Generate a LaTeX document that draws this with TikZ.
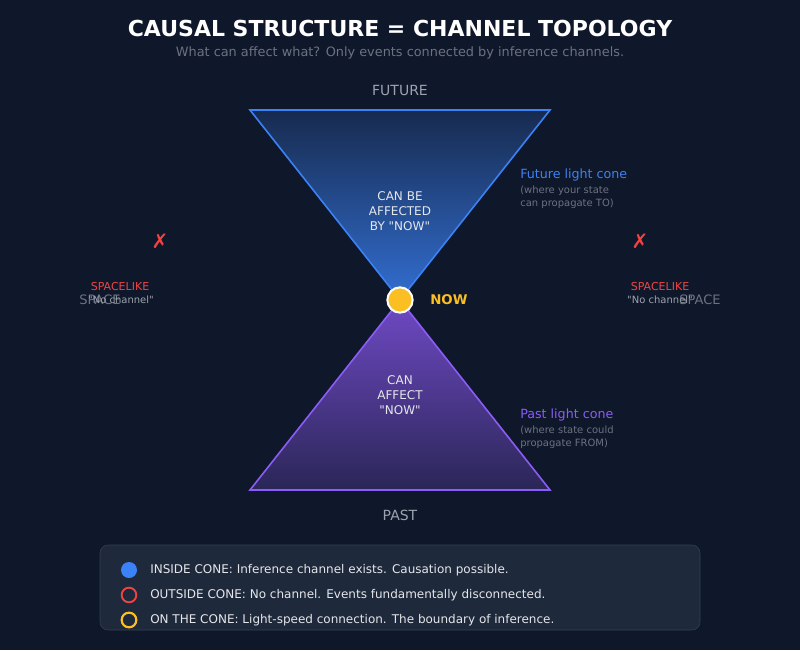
\documentclass[tikz,border=0pt]{standalone}
\usepackage{fontspec}
\setmainfont{DejaVu Sans}[Ligatures=TeXOff]
\usetikzlibrary{positioning}
\definecolor{bgnavy}{HTML}{0F172A}
\definecolor{panel}{HTML}{1E293B}
\definecolor{panelline}{HTML}{334155}
\definecolor{futblue}{HTML}{3B82F6}
\definecolor{pastviolet}{HTML}{8B5CF6}
\definecolor{nowgold}{HTML}{FBBF24}
\definecolor{spacered}{HTML}{EF4444}
\definecolor{mutegray}{HTML}{9CA3AF}
\definecolor{dimgray}{HTML}{6B7280}
\definecolor{softwhite}{HTML}{E5E7EB}

\begin{document}
\begin{tikzpicture}[x=0.75pt,y=-0.75pt,
  conetext/.style={text=softwhite,align=center,inner sep=0pt,font=\fontsize{9}{11.25}\selectfont},
  conename/.style={anchor=west,inner sep=0pt,font=\fontsize{9.5}{11}\selectfont},
  conenote/.style={anchor=north west,inner sep=0pt,text=dimgray,align=left,font=\fontsize{7.5}{9.4}\selectfont},
  legendtext/.style={anchor=west,inner sep=0pt,text=softwhite,font=\fontsize{9}{11}\selectfont}]
% background
\fill[bgnavy] (0,0) rectangle (800,650);
\useasboundingbox (0,0) rectangle (800,650);

% title
\node[text=white,font=\bfseries\fontsize{16.5}{20}\selectfont,inner sep=0pt] (title) at (400,28) {CAUSAL STRUCTURE = CHANNEL TOPOLOGY};
\node[text=dimgray,font=\fontsize{9.65}{12}\selectfont,inner sep=0pt] (subtitle) at (400,53) {What can affect what? Only events connected by inference channels.};

% cones
\shade[top color=futblue!18!bgnavy,bottom color=futblue!85!black] (250,110) -- (550,110) -- (400,300) -- cycle;
\draw[futblue,line width=1.2pt,line join=miter] (250,110) -- (550,110) -- (400,300) -- cycle;
\shade[top color=pastviolet!80!black,bottom color=pastviolet!22!bgnavy] (400,300) -- (550,490) -- (250,490) -- cycle;
\draw[pastviolet,line width=1.2pt] (400,300) -- (550,490) -- (250,490) -- cycle;

\node[text=mutegray,font=\fontsize{10.5}{12}\selectfont,inner sep=0pt] (future) at (400,90) {FUTURE};
\node[text=mutegray,font=\fontsize{10.5}{12}\selectfont,inner sep=0pt] (past) at (400,515) {PAST};

\node[conetext] (affected) at (400,211) {CAN BE\\AFFECTED\\BY "NOW"};
\node[conetext] (affect) at (400,395) {CAN\\AFFECT\\"NOW"};

% now event
\node[circle,fill=nowgold,draw=white,line width=1.5pt,minimum size=19pt,inner sep=0pt] (now) at (400,300) {};
\node[text=nowgold,font=\bfseries\fontsize{10}{12}\selectfont,anchor=west,inner sep=0pt] (nowlabel) at (430,300) {NOW};

% cone notes
\node[conename,text=futblue] (futname) at (520,175) {Future light cone};
\node[conenote] (futnote) at (520,186) {(where your state\\can propagate TO)};
\node[conename,text=pastviolet] (pastname) at (520,415) {Past light cone};
\node[conenote] (pastnote) at (520,426) {(where state could\\propagate FROM)};

% spacelike regions
\node[text=spacered,font=\fontsize{15}{16}\selectfont,inner sep=0pt] (crossL) at (160,241) {✗};
\node[text=spacered,font=\fontsize{8.25}{10}\selectfont,inner sep=0pt] (spacelikeL) at (120,286) {SPACELIKE};
\node[text=dimgray,font=\fontsize{9.75}{12}\selectfont,inner sep=0pt] (spaceL) at (100,300) {SPACE};
\node[text=mutegray,font=\fontsize{7.5}{9}\selectfont,inner sep=0pt] (nochanL) at (121,300) {"No channel"};

\node[text=spacered,font=\fontsize{15}{16}\selectfont,inner sep=0pt] (crossR) at (640,241) {✗};
\node[text=spacered,font=\fontsize{8.25}{10}\selectfont,inner sep=0pt] (spacelikeR) at (660,286) {SPACELIKE};
\node[text=dimgray,font=\fontsize{9.75}{12}\selectfont,inner sep=0pt] (spaceR) at (700,300) {SPACE};
\node[text=mutegray,font=\fontsize{7.5}{9}\selectfont,inner sep=0pt] (nochanR) at (660,300) {"No channel"};

% legend
\draw[panelline,fill=panel,rounded corners=6pt] (100,545) rectangle (700,630);
\node[circle,fill=futblue,minimum size=12pt,inner sep=0pt] (keyin) at (129,570) {};
\node[legendtext,right=15.75pt of keyin.center] (keyintext) {INSIDE CONE: Inference channel exists. Causation possible.};
\node[circle,draw=spacered,line width=1.4pt,minimum size=11pt,inner sep=0pt] (keyout) at (129,595) {};
\node[legendtext,right=15.75pt of keyout.center] (keyouttext) {OUTSIDE CONE: No channel. Events fundamentally disconnected.};
\node[circle,draw=nowgold,line width=1.6pt,minimum size=11pt,inner sep=0pt] (keyon) at (129,620) {};
\node[legendtext,right=15.75pt of keyon.center] (keyontext) {ON THE CONE: Light-speed connection. The boundary of inference.};
\end{tikzpicture}
\end{document}
